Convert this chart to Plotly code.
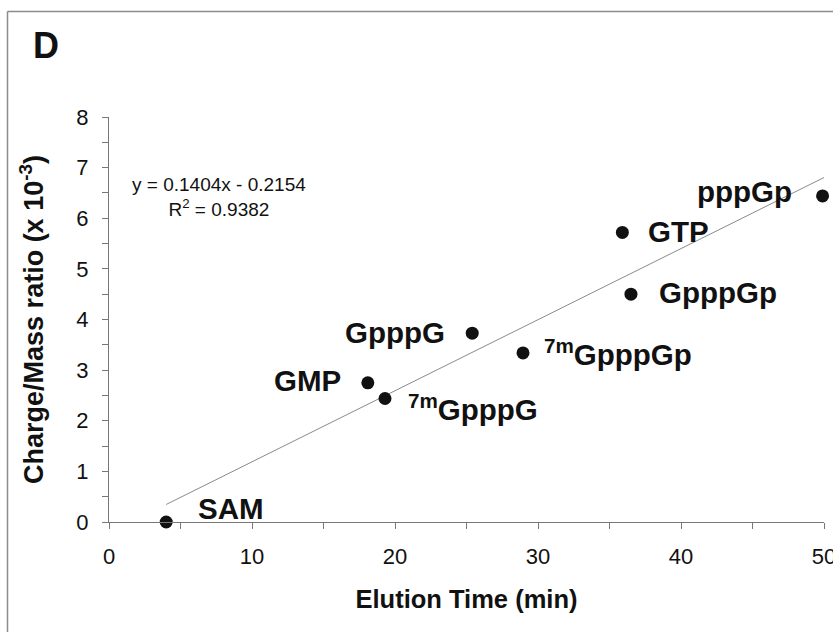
import plotly.graph_objects as go

# Data
names = ["SAM", "GMP", "<sup>7m</sup>GpppG", "GpppG", "<sup>7m</sup>GpppGp", "GTP", "GpppGp", "pppGp"]
elution_time = [4.0, 18.1, 19.3, 25.4, 28.95, 35.9, 36.5, 49.9]
charge_mass = [0.0, 2.75, 2.44, 3.73, 3.34, 5.72, 4.50, 6.44]
slope = 0.1404
intercept = -0.2154
r2 = 0.9382
fit_x = [4.0, 50.0]
fit_y = [slope * v + intercept for v in fit_x]

# label placement styles (pixel offsets from each point)
label_style = {
    "SAM": ("left", 30, 14),
    "GMP": ("right", -25, 2),
    "<sup>7m</sup>GpppG": ("left", 21, -9),
    "GpppG": ("right", -25, 1),
    "<sup>7m</sup>GpppGp": ("left", 19, 0),
    "GTP": ("left", 24, 1),
    "GpppGp": ("left", 26, 2),
    "pppGp": ("right", -29, 4),
}

W, H = 833, 632
ml, mr, mt, mb = 109, 9, 117, 110
pw, ph = W - ml - mr, H - mt - mb

FONT = "Liberation Sans, Arial, Helvetica, sans-serif"
AX = "#777777"

fig = go.Figure()
fig.add_trace(go.Scatter(x=fit_x, y=fit_y, mode="lines",
                         line=dict(color="#8a8a8a", width=1), hoverinfo="skip"))
fig.add_trace(go.Scatter(x=elution_time, y=charge_mass, mode="markers",
                         marker=dict(color="#111111", size=13), cliponaxis=False))

for n, xv, yv in zip(names, elution_time, charge_mass):
    anc, dx, dy = label_style[n]
    fig.add_annotation(x=xv, y=yv, text="<b>" + n + "</b>", showarrow=False,
                       xanchor=anc, yanchor="middle", xshift=dx, yshift=dy,
                       font=dict(family=FONT, size=29.5, color="#111111"))

fig.add_annotation(xref="paper", yref="paper", x=(219 - ml) / pw, y=(H - mb - 197) / ph,
                   text="y = 0.1404x - 0.2154<br>R<sup>2</sup> = %.4f" % r2,
                   showarrow=False, align="center", xanchor="center", yanchor="middle",
                   font=dict(family=FONT, size=19, color="#111111"))

fig.add_annotation(xref="paper", yref="paper", x=(46 - ml) / pw, y=(H - mb - 46) / ph,
                   text="<b>D</b>", showarrow=False, xanchor="center", yanchor="middle",
                   font=dict(family=FONT, size=36, color="#111111"))

# frame lines (left and top)
fx = (7.5 - ml) / pw
fy = (H - mb - 11.5) / ph
fig.add_shape(type="line", xref="paper", yref="paper", x0=fx, x1=fx, y0=fy, y1=-mb / ph - 0.01,
              line=dict(color="#8c8c8c", width=1.5))
fig.add_shape(type="line", xref="paper", yref="paper", x0=fx, x1=1 + mr / pw + 0.01, y0=fy, y1=fy,
              line=dict(color="#8c8c8c", width=1.5))

fig.update_layout(
    width=W, height=H, template=None,
    margin=dict(l=ml, r=mr, t=mt, b=mb, pad=0),
    paper_bgcolor="white", plot_bgcolor="white",
    showlegend=False,
    font=dict(family=FONT, color="#111111"),
)
fig.update_xaxes(range=[0, 50], dtick=10, tick0=0, showgrid=False, zeroline=False,
                 showline=True, linecolor=AX, linewidth=1,
                 ticks="outside", ticklen=6, tickcolor=AX, tickwidth=1,
                 minor=dict(dtick=5, ticks="outside", ticklen=6, tickcolor=AX, tickwidth=1, showgrid=False),
                 tickfont=dict(family=FONT, size=22, color="#111111"),
                 ticklabelstandoff=9, ticklabeloverflow="allow",
                 automargin=False,
                 title=dict(text="<b>Elution Time (min)</b>", font=dict(family=FONT, size=25.5, color="#111111"),
                            standoff=21))
fig.update_yaxes(range=[0, 8], dtick=1, tick0=0, showgrid=False, zeroline=False,
                 showline=True, linecolor=AX, linewidth=1,
                 ticks="outside", ticklen=6, tickcolor=AX, tickwidth=1,
                 minor=dict(dtick=0.5, ticks="outside", ticklen=6, tickcolor=AX, tickwidth=1, showgrid=False),
                 tickfont=dict(family=FONT, size=22, color="#111111"),
                 ticklabelstandoff=9,
                 automargin=False,
                 title=dict(text="<b>Charge/Mass ratio (x 10<sup>-3</sup>)</b>",
                            font=dict(family=FONT, size=27, color="#111111"), standoff=24))

fig.write_html("out.html")
